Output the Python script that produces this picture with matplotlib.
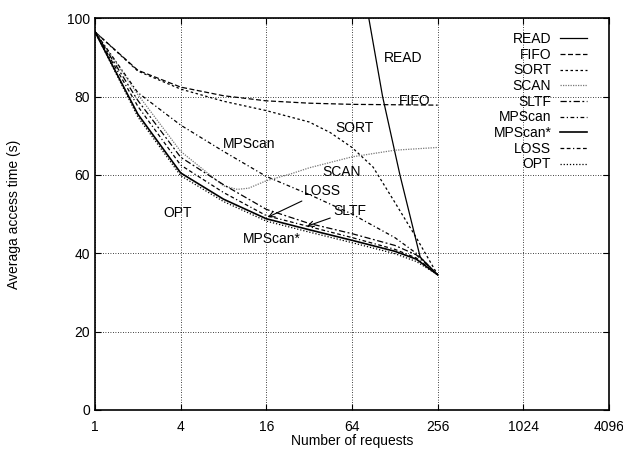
import matplotlib
matplotlib.use("Agg")
import matplotlib.pyplot as plt

# data (x = number of requests, y = average access time in s)
N10 = [1, 2, 4, 8, 16, 32, 64, 128, 181, 256]

read_n = [64, 84, 105, 139, 193, 256]
read_t = [125, 100, 80, 60, 39, 34.5]

fifo_n = [1, 2, 4, 8, 16, 32, 64, 128, 256]
fifo_t = [96.5, 86.7, 82.4, 80.2, 78.9, 78.3, 78.0, 77.9, 77.8]

sort_n = [1, 2, 4, 8, 16, 32, 45, 64, 90, 128, 181, 256]
sort_t = [96.5, 86.5, 81.9, 78.8, 76.4, 73.5, 70.8, 67.0, 62.0, 53.0, 44.0, 34.5]

scan_n = [1, 2, 4, 8, 10, 12, 16, 24, 32, 64, 128, 256]
scan_t = [96.5, 80.5, 66.0, 57.2, 56.3, 56.6, 58.5, 60.3, 61.8, 64.6, 66.3, 67.0]

sltf_t = [96.5, 79.0, 64.5, 57.5, 51.2, 47.6, 45.0, 42.0, 39.6, 34.5]
mpscan_t = [96.5, 81.0, 72.7, 66.0, 59.6, 55.0, 50.0, 44.0, 40.0, 34.5]
mpscan_star_t = [96.5, 75.5, 60.5, 53.8, 48.8, 46.0, 43.3, 40.5, 38.5, 34.5]
loss_t = [96.5, 77.5, 62.5, 55.5, 49.6, 46.8, 44.0, 41.0, 38.8, 34.5]
opt_t = [96.5, 74.8, 59.8, 53.2, 48.2, 45.4, 42.7, 39.9, 37.9, 34.5]

xticks = [1, 4, 16, 64, 256, 1024, 4096]
yticks = [0, 20, 40, 60, 80, 100]

plt.rcParams['font.family'] = ['Liberation Sans', 'DejaVu Sans']
plt.rcParams['font.size'] = 10

fig = plt.figure(figsize=(6.23, 4.54), dpi=100)
ax = fig.add_axes([0.1525, 0.097, 0.825, 0.863])

k = dict(color='black', lw=0.9)
ax.plot(read_n, read_t, label='READ', **k)
ax.plot(fifo_n, fifo_t, label='FIFO', dashes=(4, 2), **k)
ax.plot(sort_n, sort_t, label='SORT', dashes=(2, 2), **k)
ax.plot(scan_n, scan_t, label='SCAN', color='#777777', lw=0.9, dashes=(1, 1))
ax.plot(N10, sltf_t, label='SLTF', dashes=(5, 2, 1.5, 2), **k)
ax.plot(N10, mpscan_t, label='MPScan', dashes=(3, 2, 1, 2), **k)
ax.plot(N10, mpscan_star_t, label='MPScan*', color='black', lw=1.2)
ax.plot(N10, loss_t, label='LOSS', dashes=(3, 2, 3, 2, 1, 2), **k)
ax.plot(N10, opt_t, label='OPT', dashes=(1, 1.5), **k)

ax.set_xscale('log', base=2)
ax.set_xlim(1, 4096)
ax.set_ylim(0, 100)
ax.set_xticks(xticks)
ax.set_xticklabels([str(t) for t in xticks])
ax.minorticks_off()
ax.set_yticks(yticks)
ax.tick_params(direction='in', top=True, right=True, length=4, width=0.8)
ax.tick_params(axis='x', pad=7)
ax.grid(True, color='black', lw=0.6, linestyle=(0, (1, 2)))
for s in ax.spines.values():
    s.set_linewidth(1.2)

ax.set_xlabel('Number of requests', labelpad=0)
ax.set_ylabel('Averaga access time (s)', labelpad=33)

leg = ax.legend(loc='upper right', bbox_to_anchor=(0.985, 1.0), frameon=False,
                markerfirst=False, handlelength=2.0, labelspacing=0.12,
                handletextpad=0.6, borderaxespad=0.6)

# curve labels
ax.text(107, 88.8, 'READ')
ax.text(137, 77.8, 'FIFO')
ax.text(48.5, 70.9, 'SORT')
ax.text(39.4, 59.7, 'SCAN')
ax.text(7.94, 66.8, 'MPScan')
ax.text(3.0, 49.2, 'OPT')
ax.text(11.0, 42.6, 'MPScan*')
ax.annotate('LOSS', xy=(16.4, 49.2), xytext=(29.4, 54.8),
            arrowprops=dict(arrowstyle='->', color='black', lw=0.8, shrinkA=0, shrinkB=0))
ax.annotate('SLTF', xy=(30.9, 46.9), xytext=(47.1, 49.7),
            arrowprops=dict(arrowstyle='->', color='black', lw=0.8, shrinkA=0, shrinkB=0))

fig.savefig('out.png', dpi=100)
